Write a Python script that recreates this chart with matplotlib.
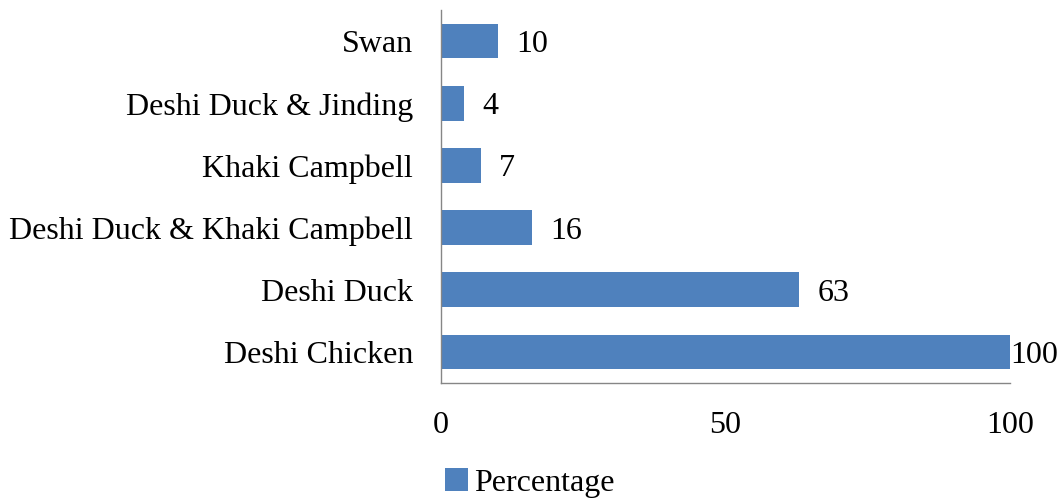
import matplotlib
matplotlib.use("Agg")
import matplotlib.pyplot as plt
import numpy as np

categories = ["Deshi Chicken", "Deshi Duck", "Deshi Duck & Khaki Campbell",
              "Khaki Campbell", "Deshi Duck & Jinding", "Swan"]
percentage = [100, 63, 16, 7, 4, 10]
xticks = [0, 50, 100]

plt.rcParams.update({"font.family": "Liberation Serif", "font.size": 23})
fig = plt.figure(figsize=(10.6, 5.0), dpi=100)
ax = fig.add_axes([441/1060, 1-383/500, 569/1060, 373/500])

y = np.arange(len(categories))
ax.barh(y, percentage, height=0.56, color="#4F81BD", label="Percentage")
for yi, v in zip(y, percentage):
    ax.text(v + 3.2 if v < 100 else v, yi, str(v), va="center_baseline", ha="left")

ax.set_xlim(0, 100)
ax.set_ylim(-0.5, len(categories) - 0.5)
ax.set_yticks(y)
ax.set_yticklabels(categories)
ax.tick_params(axis="y", length=0, pad=20)
ax.set_xticks(xticks)
ax.tick_params(axis="x", length=0, pad=20)
for s in ("top", "right"):
    ax.spines[s].set_visible(False)
for s in ("left", "bottom"):
    ax.spines[s].set_color("#868686")
    ax.spines[s].set_linewidth(1.0)

fig.legend(*ax.get_legend_handles_labels(), loc="center",
           bbox_to_anchor=(530/1060, 1-483/500), frameon=False,
           handlelength=0.7, handleheight=0.7, handletextpad=0.2)

fig.savefig("out.png", dpi=100)
